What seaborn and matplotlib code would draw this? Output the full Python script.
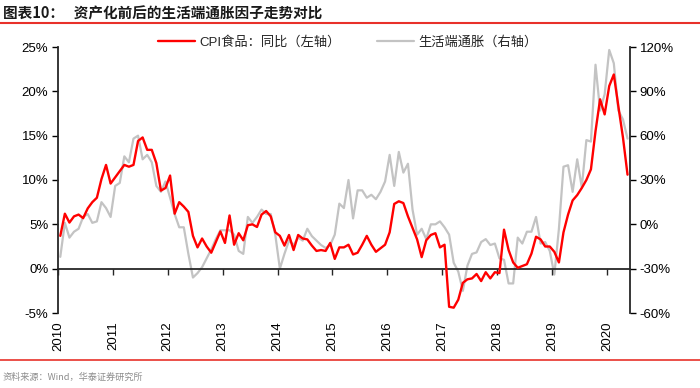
import numpy as np
import pandas as pd
import seaborn as sns
import matplotlib.pyplot as plt
from matplotlib.lines import Line2D
from matplotlib.ticker import FuncFormatter

# monthly data, Jan 2010 - May 2020
start_year = 2010
years = list(range(2010, 2021))

# CPI food yoy (%), left axis
cpi_food = [
    3.7, 6.2, 5.2, 5.9, 6.1, 5.7, 6.8, 7.5, 8.0, 10.1, 11.7, 9.6,
    10.3, 11.0, 11.7, 11.5, 11.7, 14.4, 14.8, 13.4, 13.4, 11.9, 8.8, 9.1,
    10.5, 6.2, 7.5, 7.0, 6.4, 3.7, 2.4, 3.4, 2.5, 1.8, 3.0, 4.2,
    2.9, 6.0, 2.7, 4.0, 3.2, 4.9, 5.0, 4.7, 6.1, 6.5, 5.9, 4.1,
    3.7, 2.6, 3.8, 2.1, 3.8, 3.4, 3.3, 2.6, 2.0, 2.1, 2.0, 2.9,
    1.1, 2.4, 2.4, 2.7, 1.6, 1.8, 2.7, 3.7, 2.7, 1.9, 2.3, 2.7,
    4.1, 7.3, 7.6, 7.4, 5.9, 4.6, 3.3, 1.3, 3.2, 3.8, 4.0, 2.4,
    2.7, -4.3, -4.4, -3.5, -1.6, -1.2, -1.1, -0.6, -1.4, -0.4, -1.1, -0.4,
    -0.5, 4.4, 2.1, 0.7, 0.1, 0.3, 0.5, 1.7, 3.6, 3.3, 2.5, 2.5,
    1.9, 0.7, 4.1, 6.1, 7.7, 8.3, 9.1, 10.0, 11.2, 15.5, 19.1, 17.4,
    20.6, 21.9, 18.3, 14.8, 10.6,
]

# life-side inflation factor (%), right axis
life_infl = [
    -22, 1, -9, -5, -3, 5, 7, 1, 2, 15, 11, 5,
    26, 28, 46, 42, 58, 60, 44, 47, 42, 26, 22, 29,
    18, 7, -2, -2, -20, -36, -33, -29, -23, -17, -10, -4,
    -4, -4, -7, -18, -20, 5, 1, 5, 10, 7, 7, -7,
    -30, -20, -11, -14, -9, -11, -3, -8, -11, -14, -16, -14,
    -7, 14, 11, 30, 4, 23, 23, 18, 20, 17, 22, 29,
    47, 26, 49, 35, 41, 10, -7, -3, -10, 0, 0, 2,
    -2, -7, -26, -32, -45, -28, -20, -19, -12, -10, -14, -13,
    -23, -24, -40, -40, -9, -13, -5, -5, 5, -13, -12, -18,
    -34, -3, 39, 40, 22, 44, 25, 57, 56, 108, 77, 88,
    118, 109, 77, 71, 58,
]

left_ticks = [-5, 0, 5, 10, 15, 20, 25]
right_ticks = [-60, -30, 0, 30, 60, 90, 120]

label_cpi = 'CPI食品：同比（左轴）'
label_life = '生活端通胀（右轴）'

n = len(cpi_food)
df = pd.DataFrame({
    't': start_year + (np.arange(n) + 0.5) / 12,
    'cpi': cpi_food,
    'life': life_infl,
})

sns.set_style('ticks')
plt.rcParams['font.family'] = ['Liberation Sans', 'Noto Sans CJK SC', 'DejaVu Sans']
cjk = ['Noto Sans CJK SC', 'DejaVu Sans']

fig = plt.figure(figsize=(7, 3.88), dpi=100)
ax = fig.add_axes([58 / 700, 1 - 313 / 388, 572 / 700, 266 / 388])
ax2 = ax.twinx()

sns.lineplot(data=df, x='t', y='life', ax=ax2, color='#C3C3C3', lw=1.6, legend=False)
sns.lineplot(data=df, x='t', y='cpi', ax=ax, color='#FF0000', lw=1.7, legend=False)

# red line above grey
ax.set_zorder(ax2.get_zorder() + 1)
ax.patch.set_visible(False)

pct = FuncFormatter(lambda v, p: f'{v:.0f}%')
ax.set_ylim(-5, 25)
ax.set_yticks(left_ticks)
ax.yaxis.set_major_formatter(pct)
ax2.set_ylim(-60, 120)
ax2.set_yticks(right_ticks)
ax2.yaxis.set_major_formatter(pct)

ax.set_xlim(2010, 2020.42)
ax.set_xticks(years)
ax.set_xticklabels([str(y) for y in years], rotation=90)
ax.tick_params(axis='x', length=0, pad=6, labelsize=9.5, colors='black')
ax.tick_params(axis='y', length=4, width=1, labelsize=9.5, pad=3, colors='black')
ax2.tick_params(axis='y', length=4, width=1, labelsize=9.5, pad=3, colors='black')

for a in (ax, ax2):
    a.set_xlabel('')
    a.set_ylabel('')
    for s in ('top', 'bottom'):
        a.spines[s].set_visible(False)
ax.spines['right'].set_visible(False)
ax2.spines['left'].set_visible(False)
ax.spines['left'].set_linewidth(1.3)
ax2.spines['right'].set_linewidth(1.3)

# zero line with year ticks
sec = ax.secondary_xaxis(1 / 6)
sec.set_xticks(years)
sec.tick_params(axis='x', direction='out', length=4, width=1, labelbottom=False, labeltop=False)
sec.spines['bottom'].set_linewidth(1.3)

h_cpi = ax.lines[0]
h_life = ax2.lines[0]
fig.legend([h_cpi, h_life], [label_cpi, label_life], loc='center',
           bbox_to_anchor=(0.497, 1 - 42 / 388), ncol=2, frameon=False,
           prop={'family': ['Liberation Sans', 'Noto Sans CJK SC'], 'size': 9.5},
           handlelength=2.8, handletextpad=0.3, columnspacing=2.8)

# header and footer
fig.text(0.004, 1 - 14 / 388, '图表10：   资产化前后的生活端通胀因子走势对比',
         fontsize=10.5, fontweight='bold', family=cjk, va='center', color='#1a1a1a')
fig.add_artist(Line2D([0, 1], [1 - 23 / 388] * 2, transform=fig.transFigure,
                      color='#E8312A', lw=1.5))
fig.add_artist(Line2D([0, 1], [1 - 360 / 388] * 2, transform=fig.transFigure,
                      color='#E8312A', lw=1.2))
fig.text(0.004, 1 - 377 / 388, '资料来源：Wind，华泰证券研究所', fontsize=6.6,
         family=cjk, va='center', color='#8C8C8C')

fig.savefig('out.png', dpi=100)
